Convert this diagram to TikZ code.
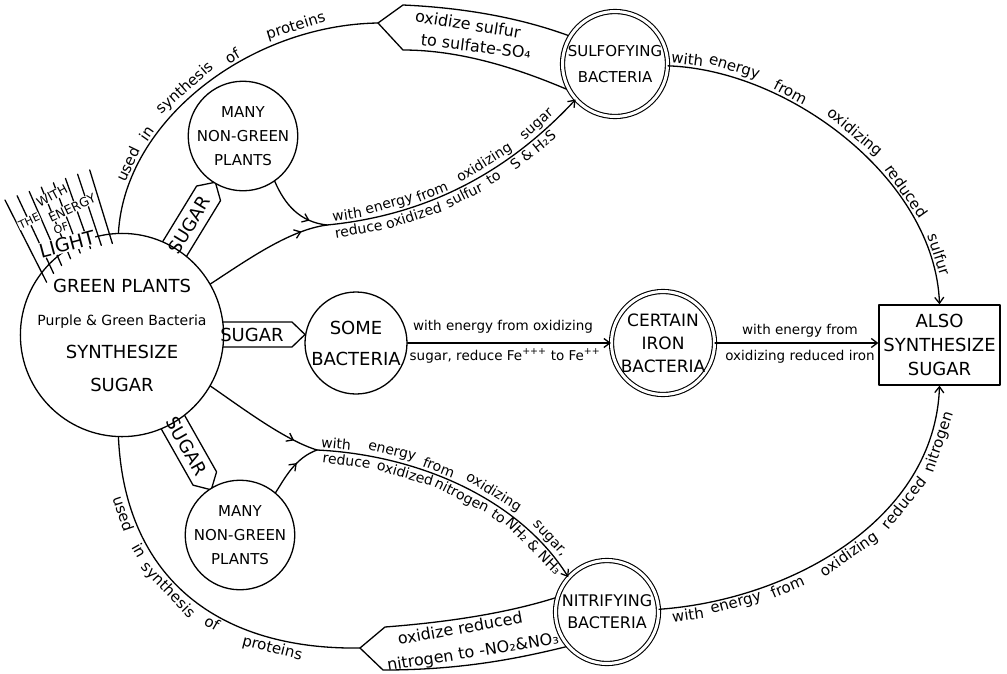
\documentclass[tikz,border=0pt]{standalone}
\usepackage{fontspec}
\setmainfont{DejaVu Sans}
\usetikzlibrary{arrows.meta,decorations.markings,backgrounds}
\newcommand\fsz[2]{\fontsize{#1}{#2}\selectfont}
\newcommand\lblfont{\fsz{13.5}{16}}
\newcommand\arcfont{\fsz{15}{17}}
\newcommand\midfont{\fsz{14}{16}}
\newcommand\sugarbox[5]{%
  \begin{scope}[shift={(#1,#2)},rotate=#3]
    \draw[bgline] ({-#4/2},{-#5/2}) -- ({#4/2-13},{-#5/2}) -- ({#4/2},0) -- ({#4/2-13},{#5/2}) -- ({-#4/2},{#5/2}) -- cycle;
  \end{scope}}
\tikzset{
  bgline/.style={line width=1.3pt, line join=round, fill=white, draw=black},
  pc/.style={circle, draw, fill=white, align=center, inner sep=0pt},
  dc/.style={pc, double, double distance=3pt, line width=1.1pt},
  lbl/.style={font=\lblfont, inner sep=1pt},
  bandtxt/.style={font=\fsz{16}{18}, inner sep=0pt},
  sugartxt/.style={font=\fsz{18}{19}, inner sep=0pt},
  lighttxt/.style={inner sep=0.6pt, fill=white},
  midarr/.style={postaction={decorate,decoration={markings,mark=at position #1 with {\arrow{>}}}}},
  wu/.style={pos=#1, sloped, allow upside down, above, font=\arcfont, inner sep=2pt},
  wd/.style={pos=#1, sloped, allow upside down, below, font=\arcfont, inner sep=2pt},
  mu/.style={wu=#1, font=\midfont},
  md/.style={wd=#1, font=\midfont},
}
\begin{document}
\begin{tikzpicture}[x=1pt,y=-1pt,line width=1.3pt,line cap=round,line join=round,
  >={Straight Barb[length=6pt,width=9pt]}]
\useasboundingbox (0,0) rectangle (1007,673);

% ---------- nodes ----------
\node[pc, minimum size=182, font=\fsz{18}{33}] (gp) at (122,335)
  {GREEN PLANTS\\{\fsz{14}{33}Purple \& Green Bacteria}\\SYNTHESIZE\\SUGAR};
\node[pc, minimum size=106, font=\fsz{15}{24}] (mp1) at (243,136) {MANY\\NON-GREEN\\PLANTS};
\node[pc, minimum size=108, font=\fsz{15}{24}] (mp2) at (240,535) {MANY\\NON-GREEN\\PLANTS};
\node[pc, minimum size=102, font=\fsz{18}{31}] (sb) at (356,343) {SOME\\BACTERIA};
\node[dc, minimum size=103, font=\fsz{17}{23}] (ci) at (663,343) {CERTAIN\\IRON\\BACTERIA};
\node[dc, minimum size=105, font=\fsz{15}{26}] (sf) at (615,64) {SULFOFYING\\BACTERIA};
\node[dc, minimum size=103, font=\fsz{16}{22}] (nf) at (607,612) {NITRIFYING\\BACTERIA};
\node[draw, fill=white, minimum width=121, minimum height=80, align=center,
  inner sep=0pt, font=\fsz{18}{24}] (box) at (939.5,345) {ALSO\\SYNTHESIZE\\SUGAR};

\coordinate (tipS) at (378,23);
\coordinate (tipN) at (360,648);
\coordinate (M1) at (327,225);
\coordinate (M2) at (317,450);

% ---------- background shapes ----------
\begin{scope}[on background layer]
  \draw[bgline] (tipS) -- (403,5) .. controls (470,8) and (535,20) .. (592,45)
     -- (582,96) .. controls (520,68) and (460,50) .. (403,50) -- cycle;
  \draw[bgline] (tipN) -- (385,627) .. controls (450,622) and (520,612) .. (578,590)
     -- (585,642) .. controls (530,656) and (470,670) .. (383,670) -- cycle;
  \sugarbox{189.3}{224.9}{58.6}{100}{28}
  \sugarbox{251.5}{334.5}{0}{107}{25}
  \sugarbox{186.6}{446.3}{-60.5}{100}{27}
\end{scope}

\node[sugartxt, rotate=58.6] (sg1) at (189.3,224.9) {SUGAR};
\node[sugartxt] (sg2) at (252,334.5) {SUGAR};
\node[sugartxt, rotate=-60.5] (sg3) at (186.6,446.3) {SUGAR};

\node[bandtxt, rotate=-9] (bs1) at (468,24) {oxidize sulfur};
\node[bandtxt, rotate=-7] (bs2) at (476,46) {to sulfate-SO₄};
\node[bandtxt, rotate=10] (bn1) at (460,628) {oxidize reduced};
\node[bandtxt, rotate=9] (bn2) at (473,653) {nitrogen to -NO₂\&NO₃};

% ---------- light ----------
\foreach \i in {0,...,7}{
  \pgfmathsetmacro\ang{145-\i*7}
  \draw ({5+\i*12.1},{200-\i*4.3}) -- ({122+92*cos(\ang)},{335-92*sin(\ang)});
}
\node[lighttxt, rotate=28, font=\fsz{12.5}{13}] (l1) at (52,196) {WITH};
\node[lighttxt, rotate=25, font=\fsz{11}{12}] (l2) at (29,221) {THE};
\node[lighttxt, rotate=25, font=\fsz{12.5}{13}] (l3) at (72,208) {ENERGY};
\node[lighttxt, rotate=18, font=\fsz{11}{12}] (l4) at (61,228) {OF};
\node[lighttxt, rotate=15, font=\fsz{19}{20}] (l5) at (67,244) {LIGHT};

% ---------- connectors ----------
\draw (gp.92) .. controls (125,120) and (250,25) .. (tipS)
  node[wu=.2] (u1) {used} node[wu=.3] (u2) {in} node[wu=.46] (u3) {synthesis}
  node[wu=.61] (u4) {of} node[wu=.79] (u5) {proteins};
\draw (gp.-92) .. controls (125,580) and (220,650) .. (tipN)
  node[wd=.19] (d1) {used} node[wd=.3] (d2) {in} node[wd=.44] (d3) {synthesis}
  node[wd=.6] (d4) {of} node[wd=.78] (d5) {proteins};

\draw[->] (sf.-2) .. controls (790,70) and (935,180) .. (box.north)
  node[wu=.05] (s1) {with} node[wu=.17] (s2) {energy} node[wu=.32] (s3) {from}
  node[wu=.5] (s4) {oxidizing} node[wu=.69] (s5) {reduced} node[wu=.87] (s6) {sulfur};
\draw[->] (nf.3) .. controls (790,600) and (935,520) .. (box.south)
  node[wd=.07] (n1) {with} node[wd=.19] (n2) {energy} node[wd=.32] (n3) {from}
  node[wd=.49] (n4) {oxidizing} node[wd=.68] (n5) {reduced} node[wd=.86] (n6) {nitrogen};

\draw[->] (sb.east) -- (ci.west);
\draw[->] (ci.east) -- (ci.east -| box.west);
\node[lbl] (fe1) at (503,327) {with energy from oxidizing};
\node[lbl] (fe2) at (505,356) {sugar, reduce Fe\textsuperscript{+++} to Fe\textsuperscript{++}};
\node[lbl] (ir1) at (800,331) {with energy from};
\node[lbl] (ir2) at (800,357) {oxidizing reduced iron};

\draw[midarr=0.8] (gp.30) .. controls (250,258) and (290,230) .. (M1);
\draw[midarr=0.75] (mp1.-55) .. controls (285,205) and (300,222) .. (M1);
\draw[->] (M1) .. controls (430,215) and (510,170) .. (sf.222)
  node[mu=.07] (a1) {with} node[mu=.22] (a2) {energy} node[mu=.38] (a3) {from}
  node[mu=.6] (a4) {oxidizing} node[mu=.84] (a5) {sugar}
  node[md=.1] (b1) {reduce} node[md=.29] (b2) {oxidized} node[md=.48] (b3) {sulfur}
  node[md=.6] (b4) {to} node[md=.77] (b5) {S \& H₂S};

\draw[midarr=0.8] (gp.-30) .. controls (245,410) and (285,440) .. (M2);
\draw[midarr=0.6] (mp2.50) .. controls (285,478) and (295,458) .. (M2);
\draw[->] (M2) .. controls (420,455) and (520,500) .. (nf.138)
  node[mu=.06] (c1) {with} node[mu=.24] (c2) {energy} node[mu=.4] (c3) {from}
  node[mu=.6] (c4) {oxidizing} node[mu=.85] (c5) {sugar,}
  node[md=.1] (e1) {reduce} node[md=.3] (e2) {oxidized} node[md=.51] (e3) {nitrogen}
  node[md=.66] (e4) {to} node[md=.83] (e5) {NH₂ \& NH₃};
\end{tikzpicture}
\end{document}
